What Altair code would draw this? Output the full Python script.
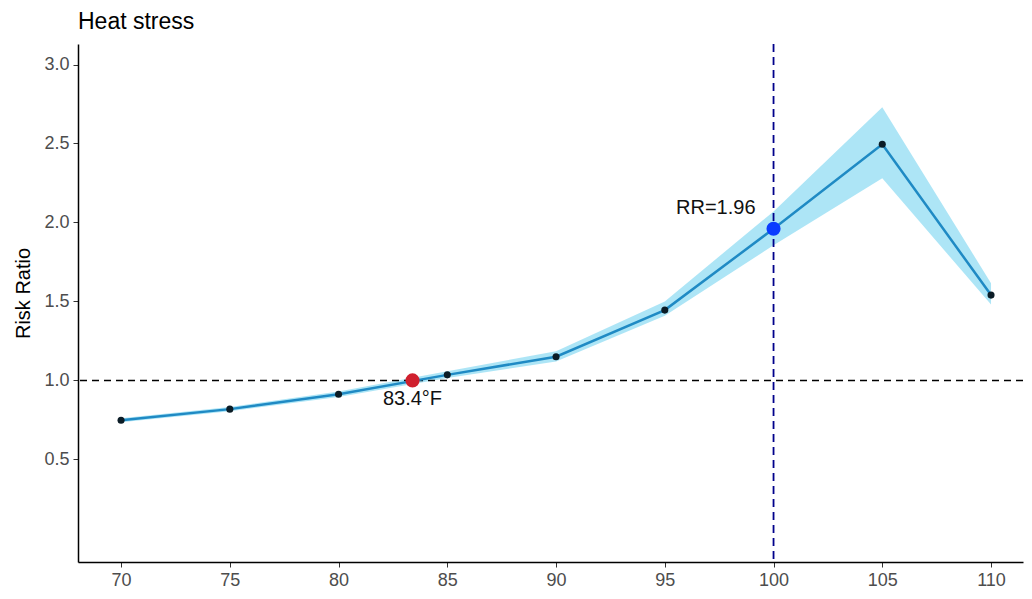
import altair as alt
import pandas as pd

temp = [70, 75, 80, 85, 90, 95, 100, 105, 110]
rr = [0.748, 0.818, 0.912, 1.035, 1.150, 1.445, 1.960, 2.495, 1.540]
lower = [0.735, 0.805, 0.895, 1.015, 1.120, 1.410, 1.855, 2.280, 1.480]
upper = [0.760, 0.832, 0.930, 1.058, 1.185, 1.500, 2.070, 2.730, 1.615]

mmt_x = [83.4]
mmt_y = [1.0]
mmt_label = ["83.4°F"]
rr_x = [100]
rr_y = [1.96]
rr_label = ["RR=1.96"]

df = pd.DataFrame({"temp": temp, "rr": rr, "lower": lower, "upper": upper})
mmt = pd.DataFrame({"x": mmt_x, "y": mmt_y, "label": mmt_label})
rrp = pd.DataFrame({"x": rr_x, "y": rr_y, "label": rr_label})
href = pd.DataFrame({"y": [1.0]})
vref = pd.DataFrame({"x": [100]})

FONT = "Liberation Sans"
xs = alt.Scale(domain=[68.02, 111.47], nice=False, zero=False)
ys = alt.Scale(domain=[-0.15, 3.13], nice=False, zero=False)

xax = alt.Axis(values=temp, title=None, grid=False, labelFontSize=18, labelColor="#4d4d4d",
               labelFont=FONT, tickColor="#333333", tickSize=5, domainColor="black",
               domainWidth=1.5, labelPadding=4)
yax = alt.Axis(values=[0.5, 1.0, 1.5, 2.0, 2.5, 3.0], format=".1f", title="Risk Ratio",
               grid=False, labelFontSize=18, labelColor="#4d4d4d", labelFont=FONT,
               tickColor="#333333", tickSize=5, domainColor="black", domainWidth=1.5,
               titleFont=FONT, titleFontSize=20, titleFontWeight="normal", titleColor="black",
               titlePadding=10, labelPadding=4, titleY=249)

band = alt.Chart(df).mark_area(color="#9fe0f5", opacity=0.85).encode(
    x=alt.X("temp:Q", scale=xs, axis=xax),
    y=alt.Y("lower:Q", scale=ys, axis=yax),
    y2="upper:Q",
)
hline = alt.Chart(href).mark_rule(color="black", strokeDash=[7, 5], strokeWidth=1.5).encode(
    y=alt.Y("y:Q", scale=ys)
)
vline = alt.Chart(vref).mark_rule(color="#00008b", strokeDash=[8, 5], strokeWidth=1.8).encode(
    x=alt.X("x:Q", scale=xs)
)
line = alt.Chart(df).mark_line(color="#1f8ac4", strokeWidth=2.5).encode(
    x=alt.X("temp:Q", scale=xs), y=alt.Y("rr:Q", scale=ys)
)
pts = alt.Chart(df).mark_circle(color="#0b1c26", opacity=1, size=50).encode(
    x=alt.X("temp:Q", scale=xs), y=alt.Y("rr:Q", scale=ys)
)
mpt = alt.Chart(mmt).mark_circle(color="#d0202e", opacity=1, size=200).encode(
    x=alt.X("x:Q", scale=xs), y=alt.Y("y:Q", scale=ys)
)
mtxt = alt.Chart(mmt).mark_text(font=FONT, fontSize=20, color="#111111", dy=19, align="center").encode(
    x=alt.X("x:Q", scale=xs), y=alt.Y("y:Q", scale=ys), text="label:N"
)
rpt = alt.Chart(rrp).mark_circle(color="#0a3cff", opacity=1, size=200).encode(
    x=alt.X("x:Q", scale=xs), y=alt.Y("y:Q", scale=ys)
)
rtxt = alt.Chart(rrp).mark_text(font=FONT, fontSize=20, color="#111111", dx=-18, dy=-21, align="right").encode(
    x=alt.X("x:Q", scale=xs), y=alt.Y("y:Q", scale=ys), text="label:N"
)

chart = alt.layer(band, hline, vline, line, pts, mpt, mtxt, rpt, rtxt).properties(
    width=945,
    height=518,
    padding={"left": 5, "top": 3, "right": 0, "bottom": 0},
    title=alt.TitleParams("Heat stress", anchor="start", frame="group", font=FONT, fontSize=23,
                          fontWeight="normal", color="black", offset=9),
).configure_view(stroke=None).configure_axisX(domainColor="black").configure_axisY(domainColor="black")

chart.save("out.html", embed_options={"renderer": "svg", "actions": False})
